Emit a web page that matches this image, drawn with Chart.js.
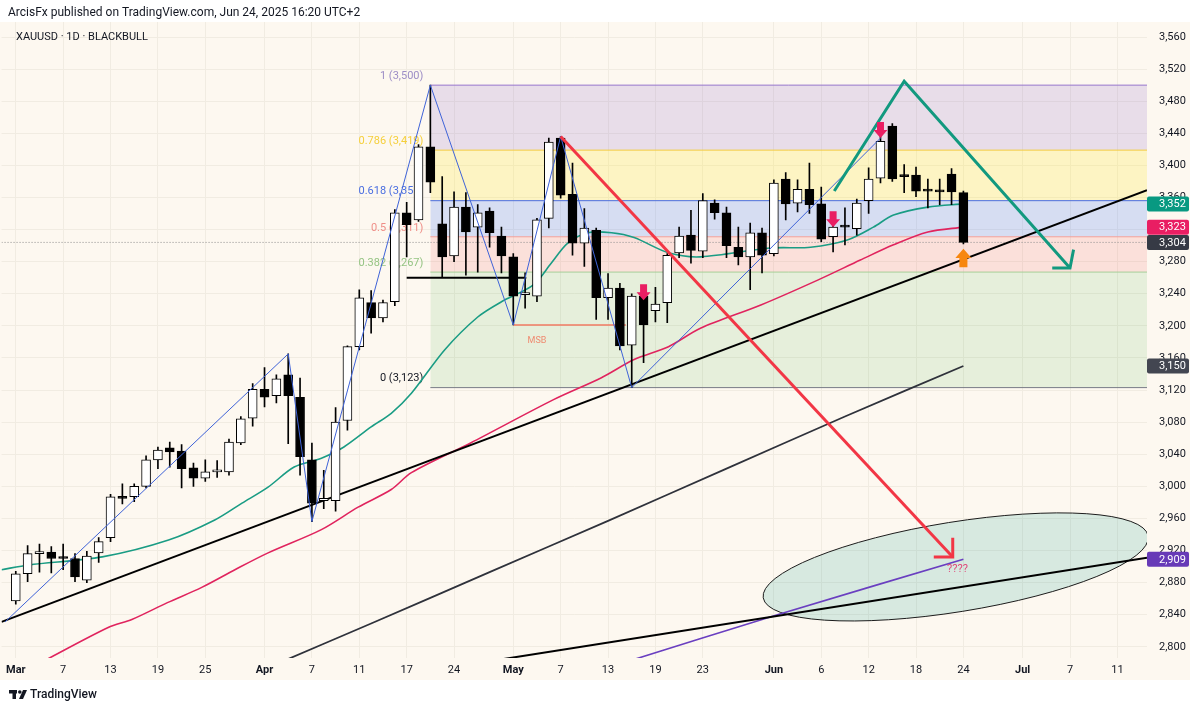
<!DOCTYPE html>
<html>
<head>
<meta charset="utf-8">
<title>XAUUSD 1D</title>
<script src="https://cdn.jsdelivr.net/npm/chart.js@4.4.1/dist/chart.umd.min.js"></script>
<style>
  html, body { margin: 0; padding: 0; background: #fff; }
  canvas { display: block; }
</style>
</head>
<body>
<canvas id="chart" width="1200" height="710"></canvas>
<script>
// daily bars, index 0 = Mar 3 2025 ... 80 = Jun 24 2025 (Good Friday skipped)
const opens = [2857,2891,2916,2918,2910,2910,2883,2917,2936,2987,
  2987,3000,3033,3048,3044,3023,3010,3018,3018,3054,
  3085,3121,3113,3139,3111,3033,2982,2982,3082,3174,
  3229,3210,3230,3341,3332,3423,3327,3287,3348,3323,
  3343,3312,3286,3239,3237,3334,3434,3364,3303,3319,
  3235,3247,3176,3237,3219,3229,3291,3313,3293,3353,
  3341,3298,3286,3316,3290,3383,3353,3370,3352,3311,
  3323,3321,3356,3384,3449,3386,3388,3368,3367,3389,
  3366];
const highs = [2894,2926,2928,2925,2928,2916,2919,2936,2990,3003,
  3003,3038,3049,3055,3052,3029,3033,3032,3059,3087,
  3128,3148,3139,3165,3135,3054,3020,3098,3175,3245,
  3244,3232,3345,3354,3426,3500,3386,3367,3366,3351,
  3347,3323,3290,3266,3334,3434,3436,3403,3346,3322,
  3265,3253,3240,3248,3248,3290,3323,3344,3365,3357,
  3348,3323,3328,3322,3382,3391,3382,3403,3373,3332,
  3347,3358,3397,3442,3452,3401,3398,3383,3383,3396,
  3368];
const lows = [2853,2881,2893,2892,2896,2881,2880,2905,2931,2978,
  2981,2998,3022,3024,2998,3000,3006,3011,3014,3052,
  3075,3099,3104,3053,3014,2956,2972,2969,3070,3170,
  3191,3205,3225,3286,3330,3366,3260,3280,3263,3267,
  3298,3266,3201,3222,3230,3322,3359,3288,3274,3208,
  3208,3170,3123,3154,3205,3204,3285,3278,3285,3333,
  3285,3276,3245,3266,3287,3332,3342,3340,3305,3292,
  3301,3313,3340,3378,3380,3366,3361,3347,3351,3351,
  3302];
const closes = [2891,2916,2918,2910,2910,2887,2913,2931,2987,2985,
  3000,3033,3045,3043,3022,3010,3018,3019,3055,3084,
  3121,3111,3134,3113,3037,2979,2985,3080,3174,3235,
  3210,3229,3341,3326,3423,3379,3286,3348,3317,3341,
  3316,3287,3237,3240,3332,3429,3363,3303,3322,3235,
  3247,3175,3237,3201,3227,3288,3312,3294,3356,3341,
  3300,3286,3316,3288,3378,3352,3370,3351,3308,3323,
  3323,3353,3383,3430,3383,3386,3368,3368,3367,3367,
  3304];

// time axis ticks (bar index -> label)
const tickIdx = [0,4,8,12,16,21,25,29,33,37,42,46,50,54,58,64,68,72,76,80,85,89,93];
const tickLabels = ['Mar','7','13','19','25','Apr','7','11','17','24','May','7','13','19','23','Jun','6','12','18','24','Jul','7','11'];
const priceTicks = [2800,2840,2880,2920,2960,3000,3040,3080,3120,3160,3200,3240,3280,3320,3360,3400,3440,3480,3520,3560];

// moving averages
const tealX = [-1.2,1.1,7.3,12.9,16.8,19.1,21.3,23.5,25.8,27.7,30,31.7,33.4,36.2,39,41,43.7,45.2,46.6,48.3,50.3,52.2,55.1,57.8,63.7,67.1,70.2,72.4,74.1,77,80];
const tealY = [2896,2902,2912,2933,2958,2979,2999,3024,3035,3049,3074,3091,3116,3170,3211,3230,3251,3278,3303,3316,3316,3310,3291,3286,3297,3298,3307,3323,3338,3348,3352];
const redX = [2.2,7.8,9.8,12.8,15.7,18.5,21.3,25.8,28.9,31.7,33.4,38.4,45.4,49.4,52.2,55.1,57.8,62.9,67.7,71.3,74.1,77,80];
const redY = [2781,2824,2834,2855,2874,2896,2917,2946,2974,2996,3017,3054,3108,3135,3158,3174,3197,3226,3257,3282,3301,3317,3323];
const grayX = [22.4,30,40,50,60,70,80];
const grayY = [2781,2829,2893,2957,3022,3087,3150];
const purpleX = [51.5,64.3,80];
const purpleY = [2781,2840,2909];

// drawings
const fibLevels = [3500,3419,3356,3311,3267,3123];
const fibNames = ['1 (3,500)','0.786 (3,419)','0.618 (3,356)','0.5 (3,311)','0.382 (3,267)','0 (3,123)'];
const fibFrom = 35, fibTo = 95.5;
const zigX = [-0.9,23,25,35,42,46,52,73];
const zigY = [2831,3165,2956,3500,3201,3436,3123,3434];
const trendX = [-1.2,95.5], trendY = [2831,3369];
const trend2X = [40,95.5], trend2Y = [2782,2911];
const shelfX = [33,43.1], shelfY = [3260,3260];
const msbX = [42,51.5], msbY = [3201,3201];
const redArrowX = [46,79.1], redArrowY = [3436,2912];
const redHeadX = [77.5,79.1,79.1], redHeadY = [2912,2912,2936];
const greenX = [69.1,75,89], greenY = [3368,3505,3272];
const greenHeadX = [87.5,89,89.3], greenHeadY = [3272,3272,3295];
const lastPrice = 3304;
const markDownX = [53,69,73], markDownY = [3232,3323,3434];
const markUpX = [80], markUpY = [3296];
const ellipseA = {x:63.1, y:2861}, ellipseB = {x:95.6, y:2938}, ellipseMinor = 56;
const tagValues = [3352,3323,3304,3150,2909];
const tagColors = ['#089981','#e91e63','#363a45','#434651','#673ab7'];

const FONT = 'Roboto, "Liberation Sans", sans-serif';
const pts = (xs, ys) => xs.map((x, i) => ({x: x, y: ys[i]}));

const fibLine = ['#9575cd','#f5cf3b','#4a6ee0','#f4a09a','#a7cf98','#787b86'];
const fibFill = [null,'rgba(149,117,205,0.2)','rgba(255,230,60,0.25)','rgba(41,98,255,0.18)','rgba(242,54,69,0.12)','rgba(76,175,80,0.13)'];
const fibText = ['#9d8ec6','#f5cf3b','#4a6ee0','#ef8e87','#95c483','#131722'];

const datasets = [];
fibLevels.forEach((lvl, i) => {
  datasets.push({
    type: 'line', data: [{x: fibFrom, y: lvl}, {x: fibTo, y: lvl}],
    borderColor: fibLine[i], borderWidth: 1, pointRadius: 0, order: 20,
    fill: i === 0 ? false : {target: i - 1, above: fibFill[i], below: fibFill[i]}
  });
});
const line = (data, color, width, order, extra) => Object.assign({
  type: 'line', data: data, borderColor: color, borderWidth: width,
  pointRadius: 0, fill: false, order: order, tension: 0
}, extra || {});

datasets.push(line([{x: -1.2, y: lastPrice}, {x: 95.5, y: lastPrice}], '#8d8d8d', 1, 15, {borderDash: [1, 2]}));
datasets.push(line(pts(grayX, grayY), '#2f323b', 1.8, 12, {tension: 0.3}));
datasets.push(line(pts(purpleX, purpleY), '#6a3fc0', 1.6, 12, {tension: 0.3}));
datasets.push(line(pts(redX, redY), '#e0245e', 1.6, 12, {tension: 0.3}));
datasets.push(line(pts(tealX, tealY), '#1a9c84', 1.6, 12, {tension: 0.3}));
datasets.push(line(pts(trendX, trendY), '#000', 2, 11));
datasets.push(line(pts(trend2X, trend2Y), '#000', 2, 11));
datasets.push(line(pts(shelfX, shelfY), '#000', 2, 11));
datasets.push(line(pts(msbX, msbY), '#f07a62', 1.6, 11));

// candles as floating bars: wicks then bodies
datasets.push({
  type: 'bar', order: 8, grouped: false, barThickness: 1,
  data: opens.map((o, i) => ({x: i, y: [lows[i], highs[i]]})),
  backgroundColor: '#000'
});
datasets.push({
  type: 'bar', order: 7, grouped: false, barThickness: 9, minBarLength: 2,
  data: opens.map((o, i) => ({x: i, y: [o, closes[i]]})),
  backgroundColor: opens.map((o, i) => closes[i] > o ? '#ffffff' : '#000000'),
  borderColor: '#000', borderWidth: 1, borderSkipped: false
});

datasets.push(line(pts(zigX, zigY), '#3f63d8', 1, 5));
datasets.push(line(pts(redArrowX, redArrowY), '#f23645', 3, 3));
datasets.push(line(pts(redHeadX, redHeadY), '#f23645', 3, 3));
datasets.push(line(pts(greenX, greenY), '#12997f', 3, 3));
datasets.push(line(pts(greenHeadX, greenHeadY), '#12997f', 3, 3));

function blockArrow(c, x, tip, down, color, k) {
  const s = down ? -1 : 1;
  k = k || 1;
  c.fillStyle = color;
  c.beginPath();
  c.moveTo(x, tip);
  c.lineTo(x - 7 * k, tip + s * 8 * k);
  c.lineTo(x - 3.5 * k, tip + s * 8 * k);
  c.lineTo(x - 3.5 * k, tip + s * 16 * k);
  c.lineTo(x + 3.5 * k, tip + s * 16 * k);
  c.lineTo(x + 3.5 * k, tip + s * 8 * k);
  c.lineTo(x + 7 * k, tip + s * 8 * k);
  c.closePath();
  c.fill();
}

const decor = {
  id: 'decor',
  beforeDraw(chart) {
    const c = chart.ctx;
    c.save();
    c.fillStyle = '#ffffff';
    c.fillRect(0, 0, 1200, 710);
    c.fillStyle = '#fdf8f0';
    c.fillRect(0, 22, 1190, 658);
    c.restore();
  },
  beforeDatasetsDraw(chart) {
    const c = chart.ctx, xs = chart.scales.x, ys = chart.scales.y, a = chart.chartArea;
    c.save();
    c.beginPath();
    c.rect(a.left, a.top, a.right - a.left, a.bottom - a.top);
    c.clip();
    // ellipse
    const x1 = xs.getPixelForValue(ellipseA.x), y1 = ys.getPixelForValue(ellipseA.y);
    const x2 = xs.getPixelForValue(ellipseB.x), y2 = ys.getPixelForValue(ellipseB.y);
    const rx = Math.hypot(x2 - x1, y2 - y1) / 2;
    const ry = ellipseMinor * (ys.getPixelForValue(3000) - ys.getPixelForValue(3001));
    c.beginPath();
    c.ellipse((x1 + x2) / 2, (y1 + y2) / 2, rx, ry, Math.atan2(y2 - y1, x2 - x1), 0, Math.PI * 2);
    c.fillStyle = 'rgba(0,150,136,0.15)';
    c.fill();
    c.lineWidth = 1;
    c.strokeStyle = '#1c1c1c';
    c.stroke();
    // fib labels
    c.font = '11px ' + FONT;
    c.textAlign = 'right';
    c.textBaseline = 'middle';
    fibLevels.forEach((lvl, i) => {
      c.fillStyle = fibText[i];
      c.fillText(fibNames[i], xs.getPixelForValue(fibFrom) - 7, ys.getPixelForValue(lvl) - 9);
    });
    c.restore();
  },
  afterDatasetsDraw(chart) {
    const c = chart.ctx, xs = chart.scales.x, ys = chart.scales.y;
    c.save();
    markDownX.forEach((v, i) => blockArrow(c, xs.getPixelForValue(v), ys.getPixelForValue(markDownY[i]), true, '#e91e63'));
    markUpX.forEach((v, i) => blockArrow(c, xs.getPixelForValue(v), ys.getPixelForValue(markUpY[i]), false, '#f7870f', 1.15));
    c.textAlign = 'center';
    c.textBaseline = 'middle';
    c.font = '9px ' + FONT;
    c.fillStyle = '#ef8a70';
    c.fillText('MSB', xs.getPixelForValue(44.0), ys.getPixelForValue(3182));
    c.font = '11px ' + FONT;
    c.fillStyle = '#e0487a';
    c.fillText('????', xs.getPixelForValue(79.5), ys.getPixelForValue(2897));
    c.restore();
  },
  afterDraw(chart) {
    const c = chart.ctx, ys = chart.scales.y, a = chart.chartArea;
    c.save();
    // price tags on the right scale
    c.font = '11px ' + FONT;
    c.textAlign = 'left';
    c.textBaseline = 'middle';
    tagValues.forEach((v, i) => {
      const y = ys.getPixelForValue(v);
      c.fillStyle = tagColors[i];
      c.beginPath();
      c.roundRect(a.right, y - 7.5, 42, 15, 2);
      c.fill();
      c.fillStyle = '#ffffff';
      c.fillText(v.toLocaleString('en-US'), a.right + 12, y + 0.5);
    });
    // header
    c.fillStyle = '#131722';
    c.font = '12px ' + FONT;
    c.fillText('ArcisFx published on TradingView.com, Jun 24, 2025 16:20 UTC+2', 8, 13);
    c.font = '11px ' + FONT;
    c.fillText('XAUUSD · 1D · BLACKBULL', 16, 37);
    // footer logo
    c.fillRect(9, 690, 8, 3.5);
    c.fillRect(12.5, 690, 3.5, 9);
    c.beginPath();
    c.arc(19.8, 692, 1.8, 0, Math.PI * 2);
    c.fill();
    c.beginPath();
    c.moveTo(23, 690); c.lineTo(27, 690); c.lineTo(23, 699); c.lineTo(19, 699);
    c.closePath();
    c.fill();
    c.font = '500 12px ' + FONT;
    c.fillText('TradingView', 30, 695);
    c.restore();
  }
};

new Chart(document.getElementById('chart'), {
  type: 'bar',
  data: {datasets: datasets},
  options: {
    responsive: false,
    animation: false,
    events: [],
    layout: {padding: {top: 22, bottom: 30, left: 0, right: 0}},
    plugins: {legend: {display: false}, tooltip: {enabled: false}},
    scales: {
      x: {
        type: 'linear', min: -1.2, max: 95.5, offset: false,
        grid: {color: '#f1ece2', drawTicks: false, offset: false},
        border: {display: false},
        afterBuildTicks: s => { s.ticks = tickIdx.map(v => ({value: v})); },
        afterFit: s => { s.height = 22; },
        ticks: {
          autoSkip: false, maxRotation: 0, padding: 6, color: '#131722',
          font: ctx => ({family: FONT, size: 11,
            weight: ['Mar','Apr','May','Jun','Jul'].includes(tickLabels[tickIdx.indexOf(ctx.tick && ctx.tick.value)]) ? 'bold' : 'normal'}),
          callback: v => tickLabels[tickIdx.indexOf(v)]
        }
      },
      y: {
        type: 'linear', position: 'right', min: 2786, max: 3578.7,
        grid: {color: '#f1ece2', drawTicks: false},
        border: {display: false},
        afterBuildTicks: s => { s.ticks = priceTicks.map(v => ({value: v})); },
        afterFit: s => { s.width = 53; },
        ticks: {
          padding: 12, color: '#131722', font: {family: FONT, size: 11},
          callback: v => v.toLocaleString('en-US')
        }
      }
    }
  },
  plugins: [decor]
});
</script>
</body>
</html>
